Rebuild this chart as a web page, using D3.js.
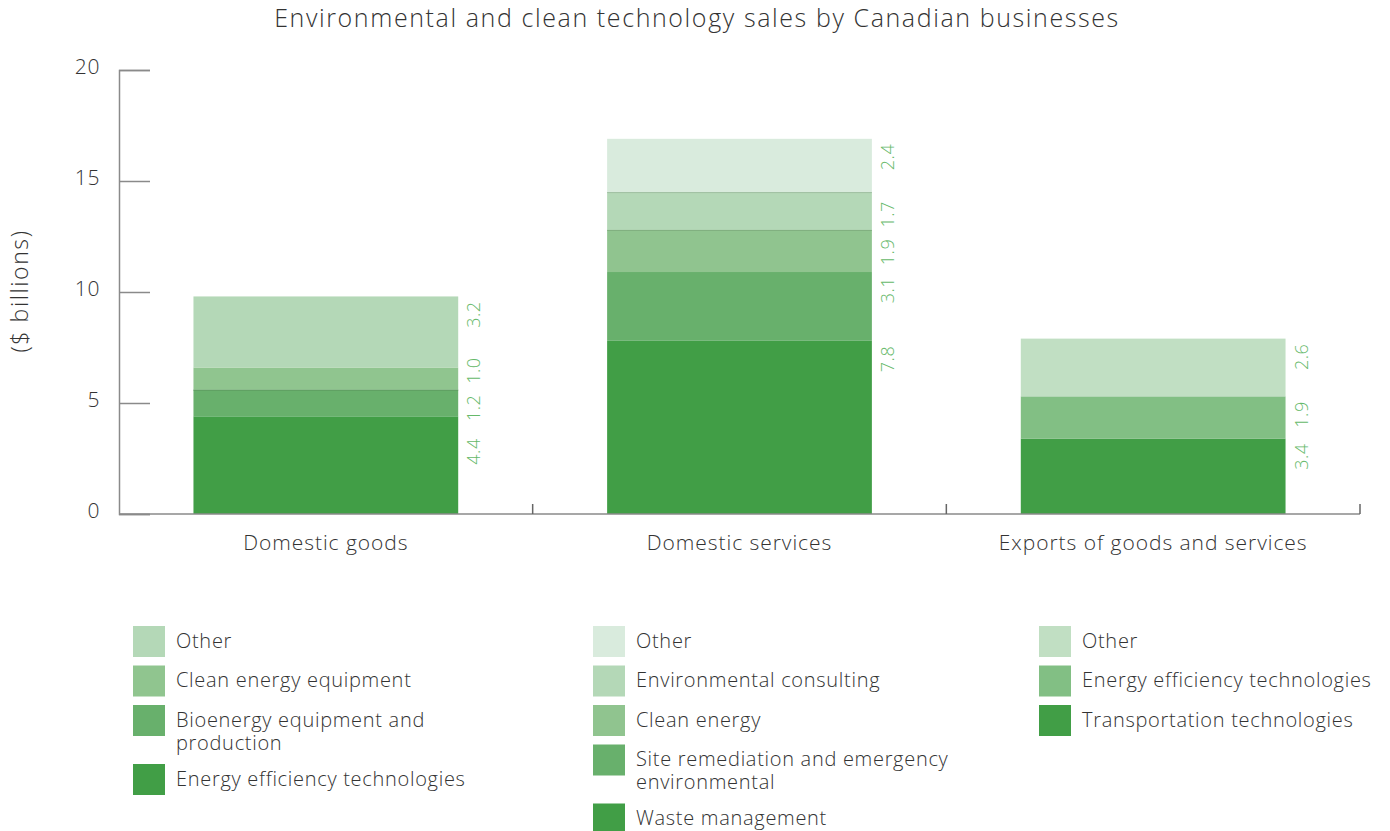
<!DOCTYPE html>
<html>
<head>
<meta charset="utf-8">
<script src="https://cdn.jsdelivr.net/npm/d3@7/dist/d3.min.js"></script>
<style>
  html, body { margin: 0; padding: 0; background: #fff; }
  svg { display: block; font-family: "Open Sans", "Lato", sans-serif; font-weight: 300; }
</style>
</head>
<body>
<svg id="chart" width="1390" height="831"></svg>
<script>
// ---- Data ($ billions) ----
const categories = ["Domestic goods", "Domestic services", "Exports of goods and services"];

const goodsSeries = ["Energy efficiency technologies", "Bioenergy equipment and production", "Clean energy equipment", "Other"];
const goodsValues = [4.4, 1.2, 1.0, 3.2];

const servicesSeries = ["Waste management", "Site remediation and emergency environmental", "Clean energy", "Environmental consulting", "Other"];
const servicesValues = [7.8, 3.1, 1.9, 1.7, 2.4];

const exportsSeries = ["Transportation technologies", "Energy efficiency technologies", "Other"];
const exportsValues = [3.4, 1.9, 2.6];

const yTicks = [0, 5, 10, 15, 20];

// ---- Palettes (bottom segment first) ----
const goodsColors = ["#419e46", "#68b06c", "#90c58f", "#b4d8b7"];
const servicesColors = ["#419e46", "#68b06c", "#90c48f", "#b4d8b7", "#d9ebdd"];
const exportsColors = ["#419e46", "#82bf84", "#c1dfc3"];

const groups = [
  { category: categories[0], series: goodsSeries, values: goodsValues, colors: goodsColors },
  { category: categories[1], series: servicesSeries, values: servicesValues, colors: servicesColors },
  { category: categories[2], series: exportsSeries, values: exportsValues, colors: exportsColors }
];

// ---- Layout ----
const svg = d3.select("#chart");
const plot = { left: 119, right: 1360, top: 70, bottom: 514 };
const textColor = "#333";
const axisColor = "#8a8a8a";
const labelColor = "#66b96a";

const x = d3.scaleBand()
  .domain(categories)
  .range([plot.left, plot.right])
  .paddingInner(0.36)
  .paddingOuter(0.18);

const y = d3.scaleLinear().domain([0, 20]).range([plot.bottom, plot.top]);

// Title
svg.append("text")
  .attr("x", 697).attr("y", 27)
  .attr("text-anchor", "middle")
  .attr("font-size", 25)
  .attr("letter-spacing", 1.6)
  .attr("fill", textColor)
  .text("Environmental and clean technology sales by Canadian businesses");

// Stacked segments
groups.forEach(g => {
  let acc = 0;
  g.segments = g.values.map((v, i) => {
    const s = { key: g.series[i], value: v, y0: acc, y1: acc + v, color: g.colors[i] };
    acc += v;
    return s;
  });
});

// Series whose upper edge carries a thin rule
const ruledTops = new Set(["Bioenergy equipment and production", "Clean energy", "Environmental consulting"]);

const barG = svg.append("g");
groups.forEach(g => {
  const gx = x(g.category);
  const sel = barG.append("g");
  sel.selectAll("rect")
    .data(g.segments)
    .join("rect")
    .attr("x", gx)
    .attr("width", x.bandwidth())
    .attr("y", d => y(d.y1))
    .attr("height", d => y(d.y0) - y(d.y1))
    .attr("fill", d => d.color);
  sel.selectAll("line.rule")
    .data(g.segments.filter(d => ruledTops.has(d.key)))
    .join("line")
    .attr("class", "rule")
    .attr("x1", gx).attr("x2", gx + x.bandwidth())
    .attr("y1", d => y(d.y1) + 0.5).attr("y2", d => y(d.y1) + 0.5)
    .attr("stroke", d => d3.color(d.color).darker(0.35))
    .attr("stroke-width", 1);
});

// Value labels, rotated, beside each bar's right edge
const labelNudge = { "Domestic goods": [17, 0, -15, 0], "Domestic services": [0, 0, 4, 4, 0] };
groups.forEach(g => {
  const lx = x(g.category) + x.bandwidth() + 22;
  const nudges = labelNudge[g.category] || [];
  svg.append("g").selectAll("text")
    .data(g.segments)
    .join("text")
    .attr("transform", (d, i) => `translate(${lx},${y(d.y1) + 5 + (nudges[i] || 0)}) rotate(-90)`)
    .attr("text-anchor", "end")
    .attr("font-size", 18)
    .attr("letter-spacing", 0.5)
    .attr("fill", labelColor)
    .text(d => d3.format(".1f")(d.value));
});

// Y axis: ticks point into the plot, labels sit to the left
const yAxis = svg.append("g")
  .attr("transform", `translate(${plot.left},0)`)
  .call(d3.axisRight(y).tickValues(yTicks).tickSize(31).tickFormat(d3.format("d")));
yAxis.select(".domain").attr("stroke", axisColor).attr("stroke-width", 1.5);
yAxis.selectAll(".tick line").attr("stroke", axisColor).attr("stroke-width", 1.5);
yAxis.selectAll(".tick text")
  .attr("x", -19).attr("dy", "0.15em")
  .attr("text-anchor", "end")
  .attr("font-size", 21)
  .attr("letter-spacing", 0.6)
  .attr("font-family", "Open Sans, Lato, sans-serif")
  .attr("font-weight", 300)
  .attr("fill", textColor);

// X axis line with separators between categories
const boundaries = categories.map(c => x(c) + x.bandwidth() + (x.step() - x.bandwidth()) / 2);
const xAxis = svg.append("g");
xAxis.append("line")
  .attr("x1", plot.left).attr("x2", plot.right)
  .attr("y1", plot.bottom).attr("y2", plot.bottom)
  .attr("stroke", axisColor).attr("stroke-width", 1.5);
xAxis.selectAll("line.sep")
  .data(boundaries)
  .join("line")
  .attr("class", "sep")
  .attr("x1", d => d).attr("x2", d => d)
  .attr("y1", plot.bottom).attr("y2", plot.bottom - 10)
  .attr("stroke", "#666").attr("stroke-width", 1.5);
xAxis.selectAll("text")
  .data(categories)
  .join("text")
  .attr("x", d => x(d) + x.bandwidth() / 2)
  .attr("y", 550)
  .attr("text-anchor", "middle")
  .attr("font-size", 21)
  .attr("letter-spacing", 0.95)
  .attr("fill", textColor)
  .text(d => d);

// Y axis title
svg.append("text")
  .attr("transform", "translate(28,291) rotate(-90)")
  .attr("text-anchor", "middle")
  .attr("font-size", 23)
  .attr("letter-spacing", 1.6)
  .attr("fill", textColor)
  .text("($ billions)");

// Legends: one column per category, top entry = top segment
const legendX = [133, 593, 1039];
const legendTop = 626;
const sw = 32, sh = 31, itemStep = 39.5, lineH = 23, wrapW = 320;
const legendFont = 20, legendSpacing = 0.7;

const measurer = svg.append("text")
  .attr("font-size", legendFont)
  .attr("letter-spacing", legendSpacing)
  .attr("visibility", "hidden");

function wrapLines(str, width) {
  const words = str.split(" ");
  const lines = [];
  let line = [];
  words.forEach(w => {
    line.push(w);
    measurer.text(line.join(" "));
    if (measurer.node().getComputedTextLength() > width && line.length > 1) {
      line.pop();
      lines.push(line.join(" "));
      line = [w];
    }
  });
  lines.push(line.join(" "));
  return lines;
}

groups.forEach((g, gi) => {
  const lg = svg.append("g").attr("transform", `translate(${legendX[gi]},0)`);
  let cy = legendTop;
  g.segments.slice().reverse().forEach(s => {
    lg.append("rect")
      .attr("x", 0).attr("y", cy)
      .attr("width", sw).attr("height", sh)
      .attr("fill", s.color);
    const lines = wrapLines(s.key, wrapW);
    lines.forEach((ln, li) => {
      lg.append("text")
        .attr("x", sw + 11)
        .attr("y", cy + sh / 2 + 6 + li * lineH)
        .attr("font-size", legendFont)
        .attr("letter-spacing", legendSpacing)
        .attr("fill", textColor)
        .text(ln);
    });
    cy += itemStep + (lines.length - 1) * (lineH - 3.5);
  });
});
measurer.remove();
</script>
</body>
</html>
